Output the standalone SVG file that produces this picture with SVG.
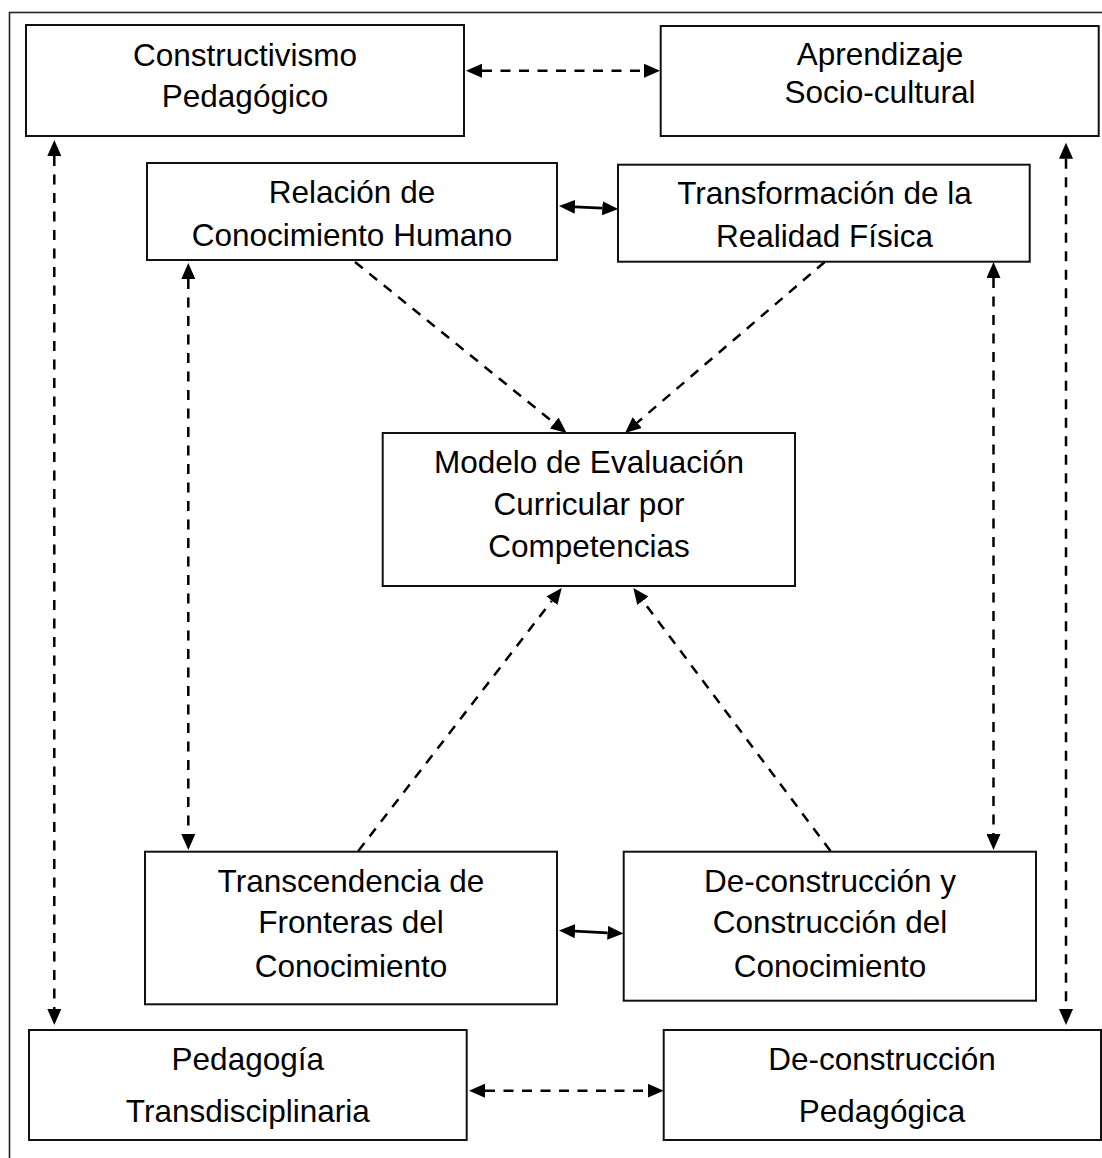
<svg xmlns="http://www.w3.org/2000/svg" width="1102" height="1158" viewBox="0 0 1102 1158">
<style>
.box{fill:#fff;stroke:#111;stroke-width:2}
.t{font-family:"Liberation Sans",Arial,sans-serif;font-size:31.5px;fill:#000;text-anchor:middle}
.d{fill:none;stroke:#000;stroke-width:2.5;stroke-dasharray:10 8.5;marker-start:url(#ah);marker-end:url(#ah)}
.d1{fill:none;stroke:#000;stroke-width:2.5;stroke-dasharray:10 8.5;marker-end:url(#ah)}
.s{fill:none;stroke:#000;stroke-width:2.8;marker-start:url(#ah);marker-end:url(#ah)}
</style>
<defs>
<marker id="ah" markerUnits="userSpaceOnUse" markerWidth="16" markerHeight="14" refX="0" refY="7" orient="auto-start-reverse" viewBox="0 0 16 14">
<path d="M0,0 L16,7 L0,14 z" fill="#000"/>
</marker>
</defs>
<rect width="1102" height="1158" fill="#fff"/>
<rect x="9.5" y="12.5" width="1110" height="1170" fill="none" stroke="#222" stroke-width="1.6"/>

<g id="connectors">
<line class="d" x1="482" y1="70.7" x2="644" y2="70.7"/>
<line class="d" x1="485" y1="1090.7" x2="647.7" y2="1090.7"/>
<line class="s" x1="575" y1="206.8" x2="602.3" y2="208.2"/>
<line class="s" x1="575" y1="931.2" x2="607.5" y2="932.8"/>
<line class="d" x1="54.3" y1="156" x2="54.3" y2="1009"/>
<line class="d" x1="1066" y1="158.7" x2="1066" y2="1009"/>
<line class="d" x1="188.3" y1="279" x2="188.3" y2="834"/>
<line class="d" x1="993.5" y1="278" x2="993.5" y2="834"/>
<line class="d1" x1="355" y1="262" x2="554.2" y2="423"/>
<line class="d1" x1="824.7" y1="262" x2="637.2" y2="422.6"/>
<line class="d1" x1="358.3" y1="851" x2="551.9" y2="600.7"/>
<line class="d1" x1="830.5" y1="851" x2="642.9" y2="600.8"/>
</g>

<g id="constructivismo">
<rect class="box" x="26" y="25" width="438" height="111"/>
<text class="t" x="245" y="65.5">Constructivismo</text>
<text class="t" x="245" y="106.7">Pedagógico</text>
</g>
<g id="aprendizaje">
<rect class="box" x="660.7" y="26" width="438" height="110"/>
<text class="t" x="880" y="65">Aprendizaje</text>
<text class="t" x="880" y="102.5">Socio-cultural</text>
</g>
<g id="relacion">
<rect class="box" x="147" y="163" width="410" height="97"/>
<text class="t" x="352" y="203.3">Relación de</text>
<text class="t" x="352" y="246">Conocimiento Humano</text>
</g>
<g id="transformacion">
<rect class="box" x="618" y="164.7" width="411.7" height="97"/>
<text class="t" x="824.5" y="204">Transformación de la</text>
<text class="t" x="824.5" y="247.3">Realidad Física</text>
</g>
<g id="modelo">
<rect class="box" x="382.7" y="433" width="412.3" height="153"/>
<text class="t" x="589" y="472.7">Modelo de Evaluación</text>
<text class="t" x="589" y="515">Curricular por</text>
<text class="t" x="589" y="556.7">Competencias</text>
</g>
<g id="transcendencia">
<rect class="box" x="145" y="851.7" width="412" height="152.6"/>
<text class="t" x="351" y="891.7">Transcendencia de</text>
<text class="t" x="351" y="933.3">Fronteras del</text>
<text class="t" x="351" y="976.7">Conocimiento</text>
</g>
<g id="deconstruccion-construccion">
<rect class="box" x="623.7" y="851.7" width="412.3" height="149"/>
<text class="t" x="830" y="891.7">De-construcción y</text>
<text class="t" x="830" y="933.3">Construcción del</text>
<text class="t" x="830" y="976.7">Conocimiento</text>
</g>
<g id="pedagogia-transdisciplinaria">
<rect class="box" x="29" y="1030" width="437.7" height="110"/>
<text class="t" x="247.8" y="1070">Pedagogía</text>
<text class="t" x="247.8" y="1121.7">Transdisciplinaria</text>
</g>
<g id="deconstruccion-pedagogica">
<rect class="box" x="663.7" y="1030" width="437.3" height="110"/>
<text class="t" x="882" y="1070">De-construcción</text>
<text class="t" x="882" y="1121.7">Pedagógica</text>
</g>
</svg>
